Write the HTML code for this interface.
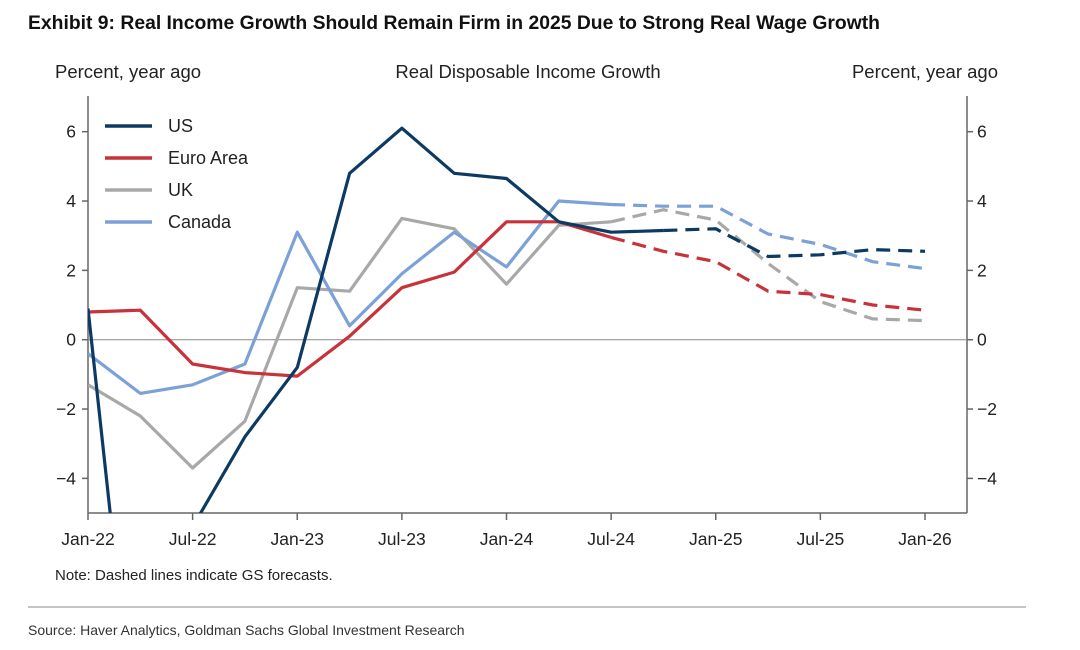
<!DOCTYPE html>
<html><head><meta charset="utf-8">
<style>
html,body{margin:0;padding:0;background:#fff;font-family:"Liberation Sans",sans-serif;width:1080px;height:650px;overflow:hidden;}
svg{display:block;}
svg text{font-family:"Liberation Sans",sans-serif;}
</style></head>
<body>
<svg width="1080" height="650" viewBox="0 0 1080 650" xmlns="http://www.w3.org/2000/svg">
<text x="28" y="29" font-size="19" font-weight="bold" fill="#111" textLength="852" lengthAdjust="spacingAndGlyphs">Exhibit 9: Real Income Growth Should Remain Firm in 2025 Due to Strong Real Wage Growth</text>
<text x="55" y="78" font-size="18.5" fill="#222">Percent, year ago</text>
<text x="528" y="78" font-size="18.5" fill="#222" text-anchor="middle">Real Disposable Income Growth</text>
<text x="998" y="78" font-size="18.5" fill="#222" text-anchor="end">Percent, year ago</text>
<defs><clipPath id="pc"><rect x="88" y="96" width="879" height="417"/></clipPath></defs>
<g id="axes"></g>
<g id="series" clip-path="url(#pc)"></g>
<g id="legend"></g>
<text x="55" y="580" font-size="15" fill="#222">Note: Dashed lines indicate GS forecasts.</text>
<line x1="28" y1="607" x2="1026" y2="607" stroke="#888" stroke-width="1"/>
<text x="28" y="635" font-size="14" fill="#333">Source: Haver Analytics, Goldman Sachs Global Investment Research</text>
</svg>
<script>
const xTickLabels=["Jan-22","Jul-22","Jan-23","Jul-23","Jan-24","Jul-24","Jan-25","Jul-25","Jan-26"];
const yTicks=[-4,-2,0,2,4,6];
const seriesNames=["US","Euro Area","UK","Canada"];
const usValues=[0.9,-13,-5.4,-2.8,-0.8,4.8,6.1,4.8,4.65,3.4,3.1,3.15,3.2,2.4,2.45,2.6,2.55];
const euroValues=[0.8,0.85,-0.7,-0.95,-1.05,0.1,1.5,1.95,3.4,3.4,2.95,2.55,2.25,1.4,1.3,1.0,0.85];
const ukValues=[-1.3,-2.2,-3.7,-2.35,1.5,1.4,3.5,3.2,1.6,3.3,3.4,3.75,3.45,2.2,1.1,0.6,0.55];
const canadaValues=[-0.4,-1.55,-1.3,-0.7,3.1,0.4,1.9,3.1,2.1,4.0,3.9,3.85,3.85,3.05,2.75,2.25,2.05];
const forecastStart=[11,10,10,10];
const colors=["#0d3a63","#c8323a","#a8a8a8","#7ba1d6"];
const NS="http://www.w3.org/2000/svg";
const X0=88,X1=925,XR=967,YT=96,YB=513;
const xs=i=>X0+(X1-X0)*i/16;
const ys=v=>339.7-v*34.67;
function mk(t,a,p){const e=document.createElementNS(NS,t);for(const k in a)e.setAttribute(k,a[k]);p.appendChild(e);return e;}
const ax=document.getElementById('axes');
let e=mk('line',{x1:X0,y1:YT,x2:X0,y2:YB,stroke:'#666','stroke-width':1.5},ax);

e=mk('line',{x1:XR,y1:YT,x2:XR,y2:YB,stroke:'#666','stroke-width':1.5},ax);

e=mk('line',{x1:X0,y1:YB,x2:XR,y2:YB,stroke:'#666','stroke-width':1.5},ax);

e=mk('line',{x1:X0,y1:ys(0),x2:XR,y2:ys(0),stroke:'#888','stroke-width':1},ax);

yTicks.forEach(v=>{
 const y=ys(v);const lab=v<0?'\u2212'+(-v):''+v;
 mk('line',{x1:X0-6,y1:y,x2:X0,y2:y,stroke:'#666','stroke-width':1.5},ax);
 mk('line',{x1:XR,y1:y,x2:XR+6,y2:y,stroke:'#666','stroke-width':1.5},ax);
 let t=mk('text',{x:X0-12,y:y+6,'font-size':17.5,fill:'#222','text-anchor':'end'},ax);t.textContent=lab;
 
 t=mk('text',{x:XR+10,y:y+6,'font-size':17.5,fill:'#222'},ax);t.textContent=lab;
 
});
xTickLabels.forEach((l,i)=>{
 const x=xs(i*2);
 mk('line',{x1:x,y1:YB,x2:x,y2:YB+7,stroke:'#666','stroke-width':1.5},ax);
 const t=mk('text',{x:x,y:545,'font-size':17.5,fill:'#222','text-anchor':'middle'},ax);t.textContent=l;
 
});
const sg=document.getElementById('series');
const all=[usValues,euroValues,ukValues,canadaValues];
const order=[2,3,1,0];
order.forEach(s=>{
 const vals=all[s],fs=forecastStart[s];
 const pts=(a,b)=>vals.slice(a,b+1).map((v,j)=>xs(a+j).toFixed(1)+','+ys(v).toFixed(1)).join(' ');
 let p=mk('polyline',{points:pts(0,fs),fill:'none',stroke:colors[s],'stroke-width':3.2,'stroke-linejoin':'round'},sg);
 
 
 p=mk('polyline',{points:pts(fs,16),fill:'none',stroke:colors[s],'stroke-width':3.2,'stroke-dasharray':'14 8'},sg);
 
 
});
const lg=document.getElementById('legend');
seriesNames.forEach((n,i)=>{
 const y=126+i*32;
 const g=mk('g',{},lg);
 
 
 mk('line',{x1:105,y1:y,x2:152,y2:y,stroke:colors[i],'stroke-width':3.5},g);
 const t=mk('text',{x:168,y:y+6,'font-size':18,fill:'#222'},g);t.textContent=n;
});
</script>
</body></html>
